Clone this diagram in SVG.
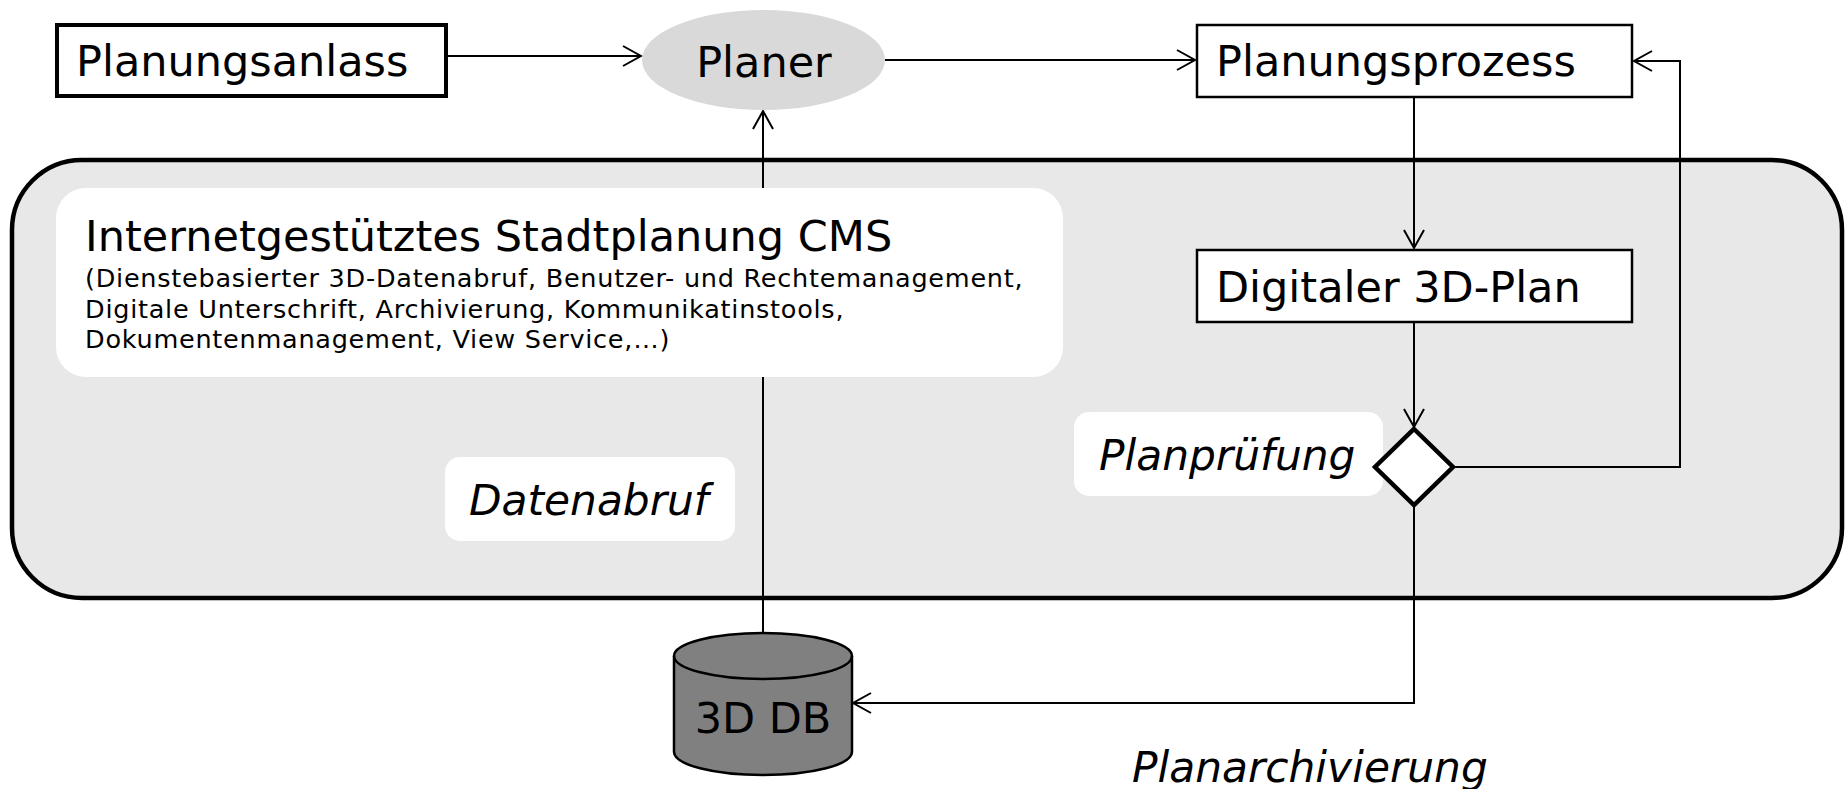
<svg xmlns="http://www.w3.org/2000/svg" width="1845" height="789" viewBox="0 0 1845 789">
<style>
text{font-family:"DejaVu Sans","Verdana",sans-serif;fill:#000}
.big{font-size:43px}
.it{font-style:italic;font-size:42.3px}
.small{font-size:25.5px;letter-spacing:0.75px}
.box{fill:#fff;stroke:#000;stroke-width:2.5}
.conn{fill:none;stroke:#000;stroke-width:2}
.lbl{fill:#fff;stroke:none}
</style>
<defs>
<marker id="arr" markerUnits="userSpaceOnUse" markerWidth="24" markerHeight="24" viewBox="-20 -12 24 24" refX="0" refY="0" orient="auto">
<path d="M-18,-10 L0,0 L-18,10" fill="none" stroke="#000" stroke-width="2"/>
</marker>
</defs>
<g id="container">
<rect x="12" y="160" width="1830" height="438" rx="70" ry="70" fill="#e8e8e8" stroke="#000" stroke-width="4.5"/>
</g>
<g id="connectors">
<line class="conn" x1="448" y1="56" x2="641" y2="56" marker-end="url(#arr)"/>
<line class="conn" x1="885" y1="60" x2="1195" y2="60" marker-end="url(#arr)"/>
<line class="conn" x1="763" y1="634" x2="763" y2="111" marker-end="url(#arr)"/>
<line class="conn" x1="1414" y1="97" x2="1414" y2="248" marker-end="url(#arr)"/>
<line class="conn" x1="1414" y1="322" x2="1414" y2="427" marker-end="url(#arr)"/>
<polyline class="conn" points="1453,467 1680,467 1680,61 1634,61" marker-end="url(#arr)"/>
<polyline class="conn" points="1414,506 1414,703 853,703" marker-end="url(#arr)"/>
</g>
<g id="planungsanlass">
<rect x="57" y="25" width="389" height="71" fill="#fff" stroke="#000" stroke-width="4"/>
<text class="big" x="76" y="76">Planungsanlass</text>
</g>
<g id="planer">
<ellipse cx="763.5" cy="60" rx="121.5" ry="50" fill="#d9d9d9"/>
<text class="big" x="764" y="77" text-anchor="middle">Planer</text>
</g>
<g id="planungsprozess">
<rect class="box" x="1197" y="25" width="435" height="72"/>
<text class="big" x="1216" y="76">Planungsprozess</text>
</g>
<g id="cms">
<rect x="56" y="188" width="1007" height="189" rx="30" ry="30" fill="#fff"/>
<text class="big" x="85" y="251">Internetgestütztes Stadtplanung CMS</text>
<text class="small" x="85" y="287">(Dienstebasierter 3D-Datenabruf, Benutzer- und Rechtemanagement,</text>
<text class="small" x="85" y="318">Digitale Unterschrift, Archivierung, Kommunikatinstools,</text>
<text class="small" x="85" y="348">Dokumentenmanagement, View Service,…)</text>
</g>
<g id="digitaler-plan">
<rect class="box" x="1197" y="250" width="435" height="72"/>
<text class="big" x="1216" y="302">Digitaler 3D-Plan</text>
</g>
<g id="planpruefung">
<rect class="lbl" x="1074" y="412" width="309" height="84" rx="15" ry="15"/>
<text class="it" x="1099" y="470">Planprüfung</text>
<polygon points="1414,429 1453,467 1414,505 1375,467" fill="#fff" stroke="#000" stroke-width="4.5"/>
</g>
<g id="datenabruf">
<rect class="lbl" x="445" y="457" width="290" height="84" rx="15" ry="15"/>
<text class="it" x="469" y="515">Datenabruf</text>
</g>
<g id="db">
<path d="M674,656 L674,752 A89,23 0 0 0 852,752 L852,656 A89,23 0 0 0 674,656 Z" fill="#808080" stroke="#000" stroke-width="2.5"/>
<path d="M674,656 A89,23 0 0 0 852,656" fill="none" stroke="#000" stroke-width="2.5"/>
<text class="big" x="763" y="733" text-anchor="middle">3D DB</text>
</g>
<g id="planarchivierung">
<text class="it" x="1132" y="782">Planarchivierung</text>
</g>
</svg>
